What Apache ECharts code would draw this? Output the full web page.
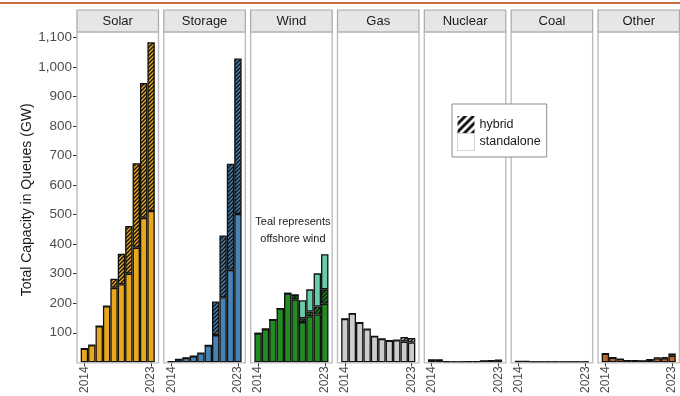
<!DOCTYPE html>
<html>
<head>
<meta charset="utf-8">
<script src="https://cdn.jsdelivr.net/npm/echarts@6/dist/echarts.min.js"></script>
<style>
html,body{margin:0;padding:0;background:#fff;}
#chart{width:680px;height:396px;}
</style>
</head>
<body>
<div id="chart"></div>
<script>
// ---- data ----
var years = ['2014','2015','2016','2017','2018','2019','2020','2021','2022','2023'];
var panels = ['Solar','Storage','Wind','Gas','Nuclear','Coal','Other'];
var yTicks = [100,200,300,400,500,600,700,800,900,1000,1100];

var solarStandalone   = [46, 58, 122, 190, 252, 264, 300, 388, 489, 512];
var solarHybrid       = [0, 0, 0, 0, 31, 103, 161, 286, 456, 571];
var storageStandalone = [2, 10, 15, 21, 31, 57, 92, 220, 313, 502];
var storageHybrid     = [0, 0, 0, 0, 0, 0, 114, 209, 359, 526];
var windStandalone    = [98, 112, 144, 182, 233, 213, 136, 156, 162, 198];
var windHybrid        = [0, 0, 0, 0, 0, 15, 13, 16, 27, 49];
var windOffshore      = [0, 0, 0, 0, 0, 0, 61, 75, 112, 119];
var gasStandalone     = [147, 165, 134, 112, 88, 79, 73, 75, 70, 67];
var gasHybrid         = [0, 0, 0, 0, 0, 0, 0, 0, 16, 15];
var nuclearStandalone = [8, 8, 2, 1, 1, 2, 2, 5, 6, 7];
var nuclearHybrid     = [0, 0, 0, 0, 0, 0, 0, 0, 0, 1];
var coalStandalone    = [3, 3, 1, 1, 1, 1, 1, 1, 1, 1];
var coalHybrid        = [0, 0, 0, 0, 0, 0, 0, 0, 0, 0];
var otherStandalone   = [29, 16, 11, 6, 6, 5, 9, 14, 14, 22];
var otherHybrid       = [0, 0, 0, 0, 0, 0, 0, 2, 3, 8];

var standaloneByPanel = [solarStandalone, storageStandalone, windStandalone, gasStandalone, nuclearStandalone, coalStandalone, otherStandalone];
var hybridByPanel     = [solarHybrid, storageHybrid, windHybrid, gasHybrid, nuclearHybrid, coalHybrid, otherHybrid];

// ---- styles ----
var colors = ['#E8A81C', '#4682B4', '#228B22', '#CCCCCC', '#C9654A', '#4D4D4D', '#BC6632'];
var offshoreColor = '#66CDAA';
var FONT = '"Liberation Sans", Arial, sans-serif';

function hatch(bg, size, lw) {
  var c = document.createElement('canvas');
  c.width = size; c.height = size;
  var g = c.getContext('2d');
  g.fillStyle = bg; g.fillRect(0, 0, size, size);
  g.strokeStyle = '#111'; g.lineWidth = lw;
  g.beginPath();
  g.moveTo(0, size); g.lineTo(size, 0);
  g.moveTo(-size/2, size/2); g.lineTo(size/2, -size/2);
  g.moveTo(size/2, size*1.5); g.lineTo(size*1.5, size/2);
  g.stroke();
  return {image: c, repeat: 'repeat'};
}

// ---- layout ----
var L = {left0: 77, step: 86.83, w: 81.5, top: 32, bottom: 362.9, stripTop: 10, stripH: 22, yTop: 37.3};
var pad = L.w / 22;

var grids = [], xAxes = [], yAxes = [], series = [], graphics = [];

graphics.push({type: 'line', shape: {x1: 0, y1: 3, x2: 680, y2: 3}, style: {stroke: '#CD6A43', lineWidth: 2}, z: 100});

panels.forEach(function (name, i) {
  var pl = L.left0 + i * L.step;
  grids.push({left: pl + pad, top: L.yTop, width: L.w - 2 * pad, height: L.bottom - L.yTop});
  var showFn = function (idx) { return idx === 0 || idx === years.length - 1; };
  xAxes.push({
    type: 'category', gridIndex: i, data: years,
    axisLine: {show: false},
    axisTick: {show: true, alignWithLabel: true, interval: showFn, length: 4, lineStyle: {color: '#333', width: 1}},
    axisLabel: {interval: showFn, rotate: 90, fontSize: 12, color: '#4D4D4D', fontFamily: FONT, margin: 4}
  });
  yAxes.push({
    type: 'value', gridIndex: i, min: 0, max: 1100, interval: 100,
    offset: i === 0 ? pad : 0,
    splitLine: {show: false},
    axisLine: {show: false},
    axisTick: {show: i === 0, length: 4, customValues: yTicks, lineStyle: {color: '#333', width: 1}},
    axisLabel: {show: i === 0, customValues: yTicks, fontSize: 13.5, color: '#4D4D4D', fontFamily: FONT, margin: 5,
      formatter: function (v) { return Number(v).toLocaleString('en-US'); }},
    name: i === 0 ? 'Total Capacity in Queues (GW)' : '',
    nameLocation: 'middle', nameRotate: 90, nameGap: 42,
    nameTextStyle: {fontSize: 14, color: '#1a1a1a', fontFamily: FONT}
  });
  var base = {type: 'bar', xAxisIndex: i, yAxisIndex: i, stack: name, barCategoryGap: '0%',
    animation: false, silent: true};
  series.push(Object.assign({}, base, {name: 'standalone', data: standaloneByPanel[i],
    itemStyle: {color: colors[i], borderColor: '#111', borderWidth: 1.3}}));
  series.push(Object.assign({}, base, {name: 'hybrid', data: hybridByPanel[i],
    itemStyle: {color: hatch(colors[i], 4, 1.4), borderColor: '#111', borderWidth: 1.3}}));
  if (name === 'Wind') {
    series.push(Object.assign({}, base, {name: 'offshore', data: windOffshore,
      itemStyle: {color: offshoreColor, borderColor: '#111', borderWidth: 1.3}}));
  }
  // strip and frame
  graphics.push({type: 'rect', shape: {x: pl, y: L.stripTop, width: L.w, height: L.stripH},
    style: {fill: '#E6E6E6', stroke: '#A8A8A8', lineWidth: 1.2}, z: 50});
  graphics.push({type: 'text', x: pl + L.w / 2, y: L.stripTop + L.stripH / 2 + 0.5,
    style: {text: name, fill: '#1a1a1a', font: '13px ' + FONT, textAlign: 'center', textVerticalAlign: 'middle'}, z: 51});
  graphics.push({type: 'rect', shape: {x: pl, y: L.top, width: L.w, height: L.bottom - L.top},
    style: {fill: 'none', stroke: '#BDBDBD', lineWidth: 1.4}, z: 50});
});

// annotation in wind panel
var windLeft = L.left0 + 2 * L.step;
graphics.push({type: 'text', x: windLeft + L.w / 2 + 1.5, y: 230,
  style: {text: 'Teal represents\noffshore wind', fill: '#1a1a1a', font: '11px ' + FONT,
    textAlign: 'center', textVerticalAlign: 'middle', lineHeight: 17}, z: 60});

var option = {
  animation: false,
  backgroundColor: '#fff',
  grid: grids, xAxis: xAxes, yAxis: yAxes, series: series,
  legend: {
    orient: 'vertical', left: 452, top: 104, padding: [12, 6, 6, 5],
    itemGap: 0, itemWidth: 17, itemHeight: 17, selectedMode: false,
    backgroundColor: '#fff', borderColor: '#8c8c8c', borderWidth: 1,
    textStyle: {fontSize: 12.5, color: '#1a1a1a', fontFamily: FONT},
    data: [
      {name: 'hybrid', icon: 'rect', itemStyle: {color: hatch('#ffffff', 8, 3), borderWidth: 0}},
      {name: 'standalone', icon: 'rect', itemStyle: {color: '#ffffff', borderColor: '#d4d4d4', borderWidth: 1}}
    ],
    z: 80
  },
  graphic: graphics
};
var chart = echarts.init(document.getElementById('chart'), null, {renderer: 'canvas'});
chart.setOption(option);
</script>
</body>
</html>
